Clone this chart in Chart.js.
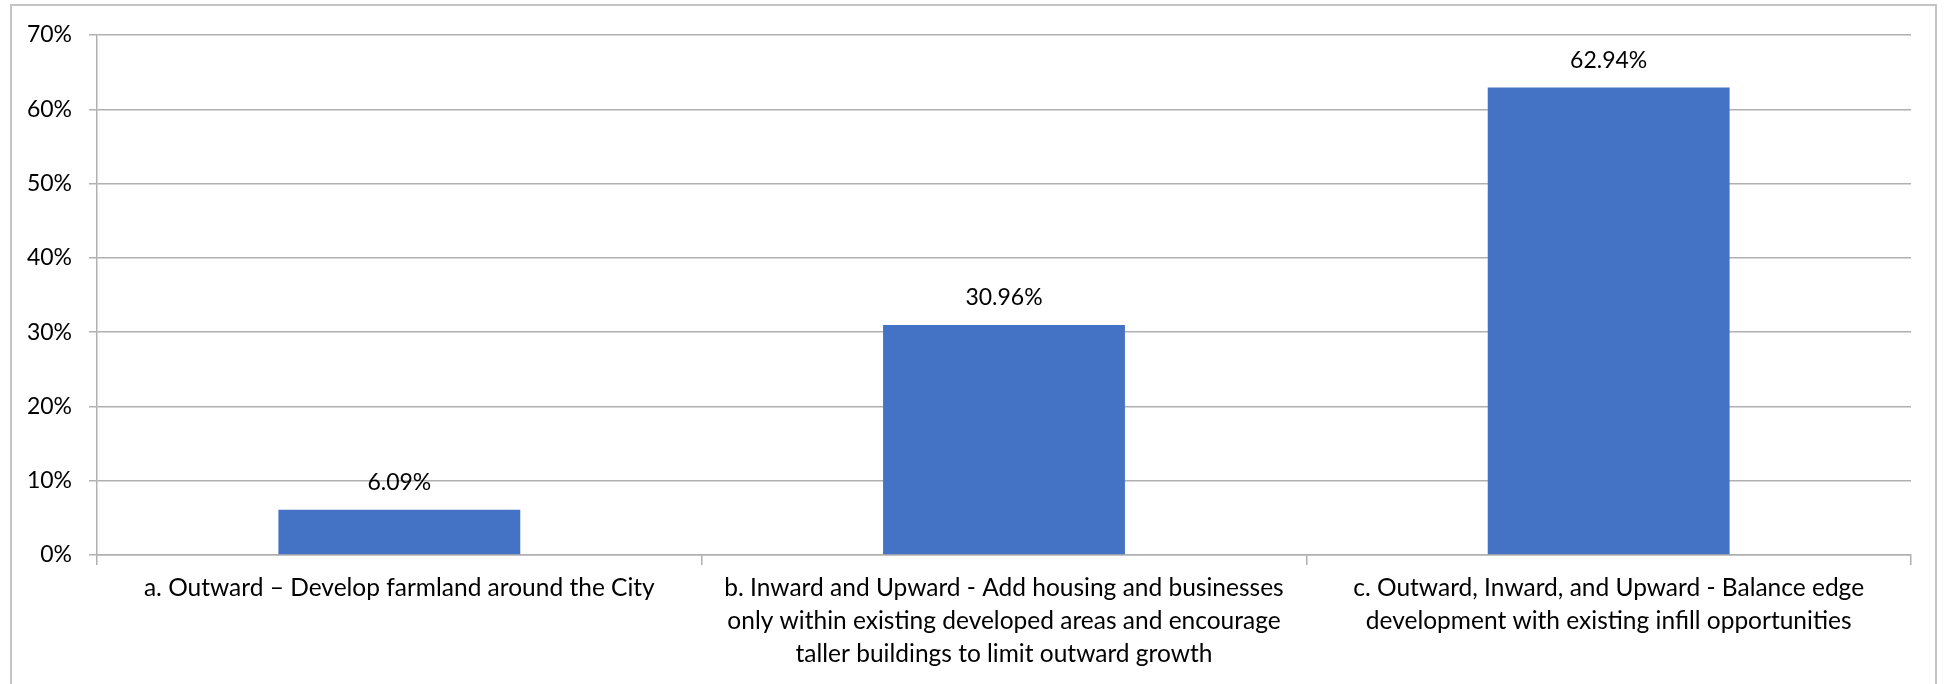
<!DOCTYPE html>
<html>
<head>
<meta charset="utf-8">
<script src="https://cdn.jsdelivr.net/npm/chart.js@4.4.1/dist/chart.umd.min.js"></script>
<style>
	html, body { margin: 0; padding: 0; background: #fff; overflow: hidden; }
	#wrap { position: relative; width: 1948px; height: 684px; }
	#frame { position: absolute; left: 10px; top: 4px; right: 11px; bottom: -10px; border: 2px solid #c4c4c4; }
	canvas { position: absolute; left: 0; top: 0; }
</style>
</head>
<body>
<div id="wrap">
	<div id="frame"></div>
	<canvas id="chart" width="1948" height="684"></canvas>
</div>
<script>
	// category labels, already split in lines as in the picture
	const categories = [
		['a. Outward – Develop farmland around the City'],
		['b. Inward and Upward - Add housing and businesses', 'only within existing developed areas and encourage', 'taller buildings to limit outward growth'],
		['c. Outward, Inward, and Upward - Balance edge', 'development with existing infill opportunities']
	];
	const shares = [6.09, 30.96, 62.94];
	const yTicks = [0, 10, 20, 30, 40, 50, 60, 70];

	const grey = '#b0b0b0',
		ink = '#000',
		family = 'Lato, "Noto Sans", sans-serif',
		font = { family: family, size: 23 };

	/**
	 * Writes the share above each bar.
	 */
	const barLabels = {
		id: 'barLabels',
		afterDatasetsDraw: function(chart) {
			let ctx = chart.ctx;

			ctx.save();
			ctx.font = font.size + 'px ' + font.family;
			ctx.fillStyle = ink;
			ctx.textAlign = 'center';
			ctx.textBaseline = 'middle';
			chart.getDatasetMeta(0).data.forEach(function(bar, i) {
				ctx.fillText(shares[i].toFixed(2) + '%', bar.x, bar.y - 27);
			});
			ctx.restore();
		}
	};

	new Chart(document.getElementById('chart'), {
		type: 'bar',
		data: {
			labels: categories,
			datasets: [{
				data: shares,
				backgroundColor: '#4472C4',
				borderWidth: 0,
				categoryPercentage: 1,
				barPercentage: 0.4
			}]
		},
		plugins: [barLabels],
		options: {
			responsive: false,
			devicePixelRatio: 1,
			animation: false,
			layout: { padding: { top: 35, right: 37, left: 0, bottom: 0 } },
			plugins: {
				legend: { display: false },
				tooltip: { enabled: false }
			},
			scales: {
				x: {
					grid: { offset: true, drawOnChartArea: false, color: grey, lineWidth: 1.5, tickLength: 10 },
					border: { color: grey, width: 1.5 },
					ticks: { color: ink, font: { family: family, size: 24.5, lineHeight: 1.36 }, padding: 6, maxRotation: 0, autoSkip: false },
					afterFit: function(scale) { scale.height = 129; }
				},
				y: {
					min: yTicks[0],
					max: yTicks[yTicks.length - 1],
					afterBuildTicks: function(scale) {
						scale.ticks = yTicks.map(function(v) { return { value: v }; });
					},
					grid: { color: grey, lineWidth: 1.5, tickLength: 8 },
					border: { color: grey, width: 1.5 },
					ticks: {
						color: ink,
						font: font,
						padding: 17,
						callback: function(v) { return v + '%'; }
					},
					afterFit: function(scale) { scale.width = 97; }
				}
			}
		}
	});
</script>
</body>
</html>
